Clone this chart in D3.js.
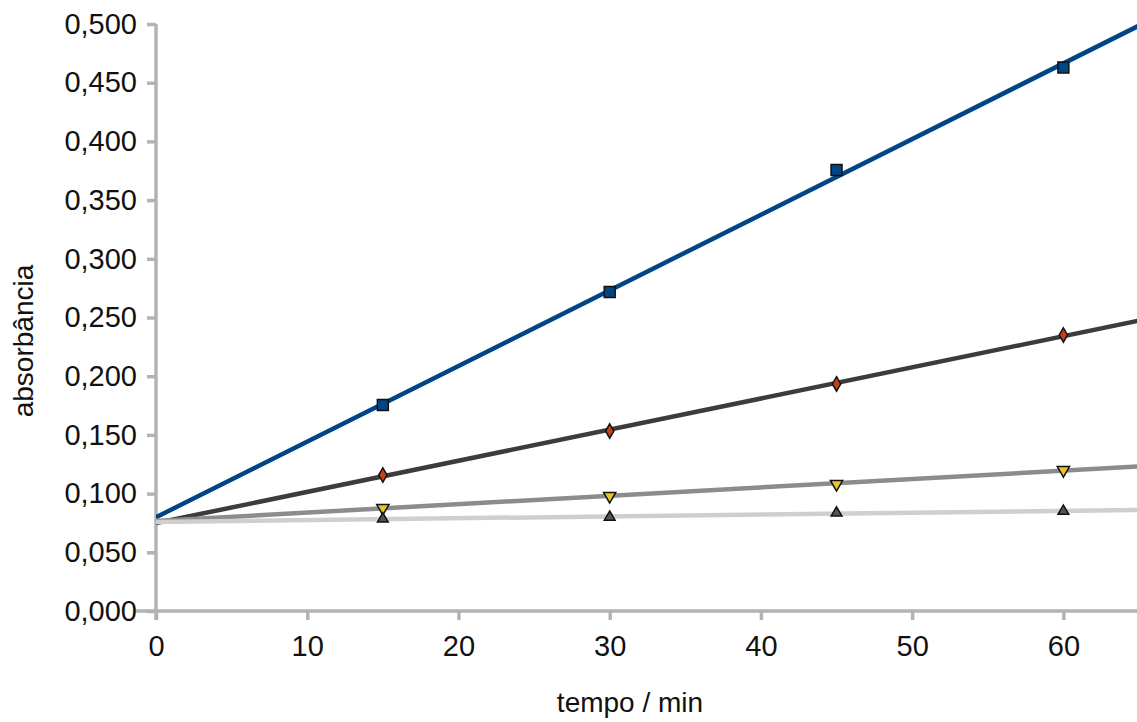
<!DOCTYPE html>
<html>
<head>
<meta charset="utf-8">
<script src="https://cdn.jsdelivr.net/npm/d3@7.9.0/dist/d3.min.js"></script>
<style>
  body { margin: 0; background: #fff; }
  svg { display: block; font-family: "Liberation Sans", Arial, sans-serif; }
</style>
</head>
<body>
<svg id="chart" width="1137" height="722"></svg>
<script>
// values
const times = [15, 30, 45, 60];
const serieA = [0.1755, 0.2717, 0.3756, 0.4630];
const serieB = [0.1158, 0.1533, 0.1934, 0.2351];
const serieC = [0.0877, 0.0980, 0.1082, 0.1200];
const serieD = [0.0784, 0.0800, 0.0835, 0.0850];
const xTicks = [0, 10, 20, 30, 40, 50, 60];
const yTicks = [0, 0.05, 0.1, 0.15, 0.2, 0.25, 0.3, 0.35, 0.4, 0.45, 0.5];

const series = [
  { values: serieA, line: "#004586", fill: "#004586", symbol: d3.symbolSquare, size: 120 },
  { values: serieB, line: "#3c3c3c", fill: "#c5401a", symbol: d3.symbolDiamond, size: 60 },
  { values: serieC, line: "#8c8c8c", fill: "#e8c52a", symbol: d3.symbolTriangle, size: 65, rot: 180 },
  { values: serieD, line: "#cfcfcf", fill: "#555555", symbol: d3.symbolTriangle, size: 50 }
];

const svg = d3.select("#chart");
const x = d3.scaleLinear().domain([0, 65]).range([156, 1139]);
const y = d3.scaleLinear().domain([0, 0.5]).range([611, 24]);

const fmt = v => d3.format(".3f")(v).replace(".", ",");

// least squares trend line
function fit(vals) {
  const mx = d3.mean(times), my = d3.mean(vals);
  let sxy = 0, sxx = 0;
  times.forEach((t, i) => { sxy += (t - mx) * (vals[i] - my); sxx += (t - mx) * (t - mx); });
  const b = sxy / sxx;
  return { a: my - b * mx, b: b };
}

// axes
const yAxis = svg.append("g")
  .attr("transform", `translate(${x(0)},0)`)
  .call(d3.axisLeft(y).tickValues(yTicks).tickFormat(fmt).tickSize(9).tickSizeOuter(0).tickPadding(10));
const xAxis = svg.append("g")
  .attr("transform", `translate(0,${y(0)})`)
  .call(d3.axisBottom(x).tickValues(xTicks).tickSize(9).tickSizeOuter(0).tickPadding(15));

[yAxis, xAxis].forEach(g => {
  g.select(".domain").attr("stroke", "#b3b3b3").attr("stroke-width", 3.5);
  g.selectAll(".tick line").attr("stroke", "#b3b3b3").attr("stroke-width", 3.5);
  g.selectAll(".tick text").attr("fill", "#111").style("font-size", "29px");
});
xAxis.select(".domain").attr("d", `M${x(0) - 20},0H1137`);
yAxis.select(".domain").attr("d", `M0,${y(0.5)}V${y(0) + 9}`);

// trend lines
const clip = svg.append("clipPath").attr("id", "plot")
  .append("rect").attr("x", x(0)).attr("y", 0).attr("width", 1137 - x(0)).attr("height", y(0));

const lineGen = d3.line().x(d => x(d[0])).y(d => y(d[1]));
series.forEach(s => {
  const f = fit(s.values);
  svg.append("path")
    .attr("clip-path", "url(#plot)")
    .attr("d", lineGen([[0, f.a], [65, f.a + 65 * f.b]]))
    .attr("fill", "none")
    .attr("stroke", s.line)
    .attr("stroke-width", 4.5);
});

// markers
series.forEach(s => {
  svg.append("g").selectAll("path")
    .data(s.values)
    .join("path")
    .attr("d", d3.symbol().type(s.symbol).size(s.size))
    .attr("transform", (d, i) => `translate(${x(times[i])},${y(d)}) rotate(${s.rot || 0})`)
    .attr("fill", s.fill)
    .attr("stroke", "#111")
    .attr("stroke-width", 1.5);
});

// labels
svg.append("text")
  .attr("x", 630).attr("y", 712)
  .attr("text-anchor", "middle")
  .style("font-size", "28px").attr("fill", "#111")
  .text("tempo / min");

svg.append("text")
  .attr("transform", `translate(33,341) rotate(-90)`)
  .attr("text-anchor", "middle")
  .style("font-size", "28px").attr("fill", "#111")
  .text("absorbância");
</script>
</body>
</html>
